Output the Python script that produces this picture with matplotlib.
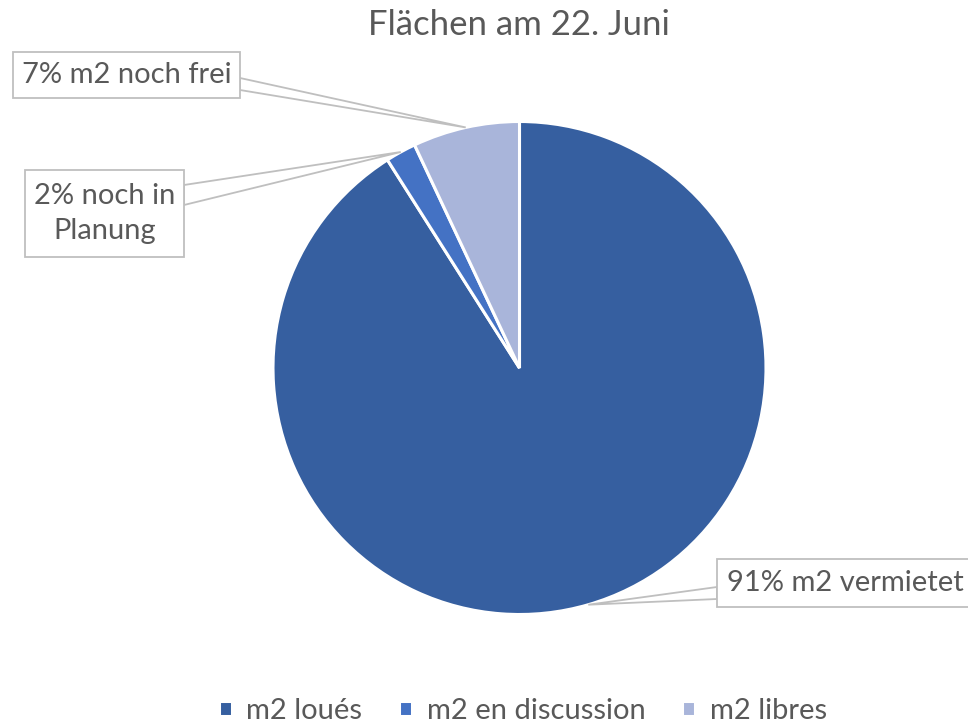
import numpy as np
import matplotlib
matplotlib.use("Agg")
import matplotlib.pyplot as plt
from matplotlib.patches import Rectangle, Polygon

plt.rcParams['font.family'] = ['Lato', 'DejaVu Sans']

# data
title = "Flächen am 22. Juni"
categories = ['m2 loués', 'm2 en discussion', 'm2 libres']
values = [91, 2, 7]
callouts = ['91% m2 vermietet', '2% noch in\nPlanung', '7% m2 noch frei']
colors = ['#365FA0', '#4472C4', '#A9B5DA']

W, H = 968, 727
txt_col = '#595959'
edge_col = '#BFBFBF'

fig = plt.figure(figsize=(W / 100, H / 100), dpi=100)
ax = fig.add_axes([0, 0, 1, 1])

cx, cy, r = 519.5, H - 368, 246.5
wedges, _ = ax.pie(values, colors=colors, startangle=90, counterclock=False,
                   center=(cx, cy), radius=r,
                   wedgeprops=dict(edgecolor='white', linewidth=2.2))
ax.set_xlim(0, W)
ax.set_ylim(0, H)
ax.set_aspect('equal')
ax.axis('off')

# callout boxes (pixel coords, y from top): x0, x1, y0, y1, tail top y, tail bottom y, side
boxes = [
    (717, 975, 559, 607, 587, 599, 'left'),
    (25, 184, 170, 257, 185, 205, 'right'),
    (13, 240, 52, 98, 78, 90, 'right'),
]

def py(y):
    return H - y

for w, text, (x0, x1, y0, y1, t0, t1, side) in zip(wedges, callouts, boxes):
    mid = np.deg2rad((w.theta1 + w.theta2) / 2)
    ax_, ay_ = cx + r * np.cos(mid), cy + r * np.sin(mid)
    ex = x0 if side == 'left' else x1
    tail = Polygon([(ex, py(t0)), (ax_, ay_), (ex, py(t1))], closed=True,
                   facecolor='white', edgecolor=edge_col, linewidth=1.3, zorder=3)
    ax.add_patch(tail)
    ax.add_patch(Rectangle((x0, py(y1)), x1 - x0, y1 - y0, facecolor='white',
                           edgecolor=edge_col, linewidth=1.3, zorder=4))
    ax.text((x0 + x1) / 2 if side == 'right' else x0 + 10, py((y0 + y1) / 2), text,
            ha='center' if side == 'right' else 'left', va='center',
            fontsize=21, color=txt_col, zorder=5, linespacing=1.4)

ax.text(W / 2 + 35, py(25), title, ha='center', va='center', fontsize=25, color=txt_col)

fig.legend(wedges, categories, loc='center', bbox_to_anchor=(0.54, 1 - 711 / H),
           ncol=3, frameon=False, fontsize=21, handlelength=0.45, handleheight=0.45,
           columnspacing=1.25, handletextpad=0.5, labelcolor=txt_col)

fig.savefig('out.png', dpi=100)
